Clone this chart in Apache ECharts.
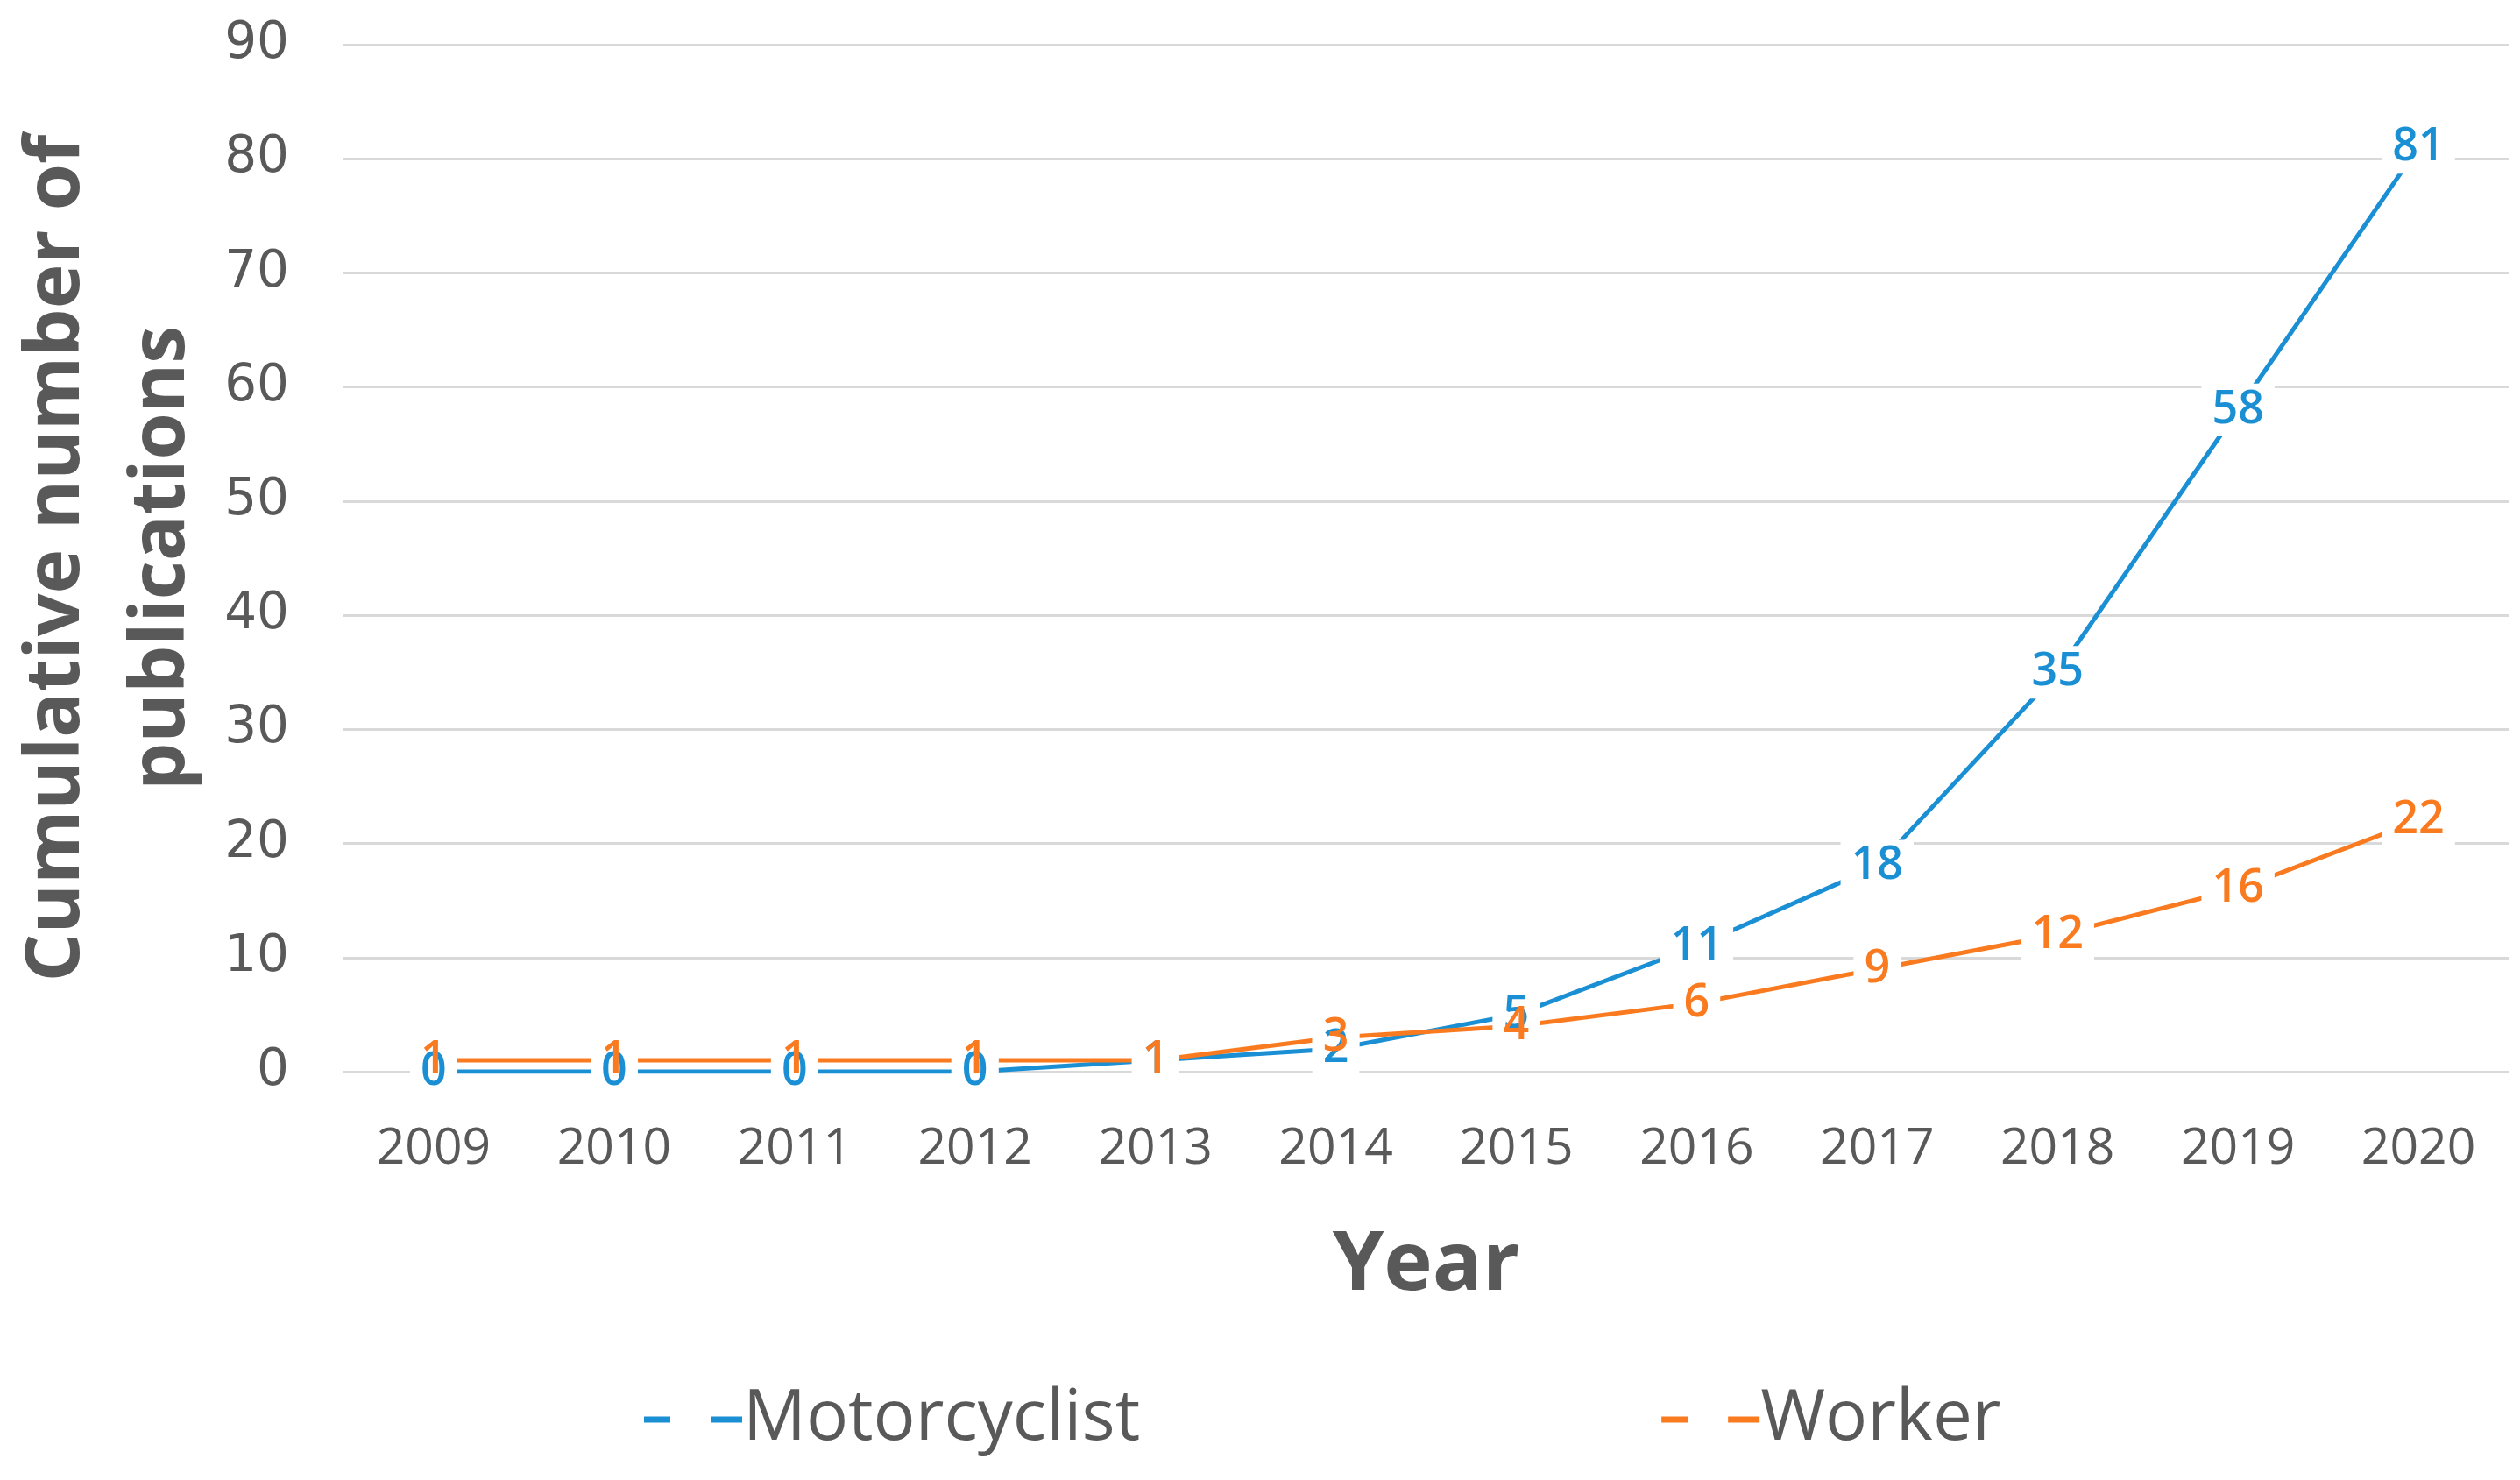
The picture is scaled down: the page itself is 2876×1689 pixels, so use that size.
<!DOCTYPE html>
<html><head><meta charset="utf-8">
<script src="https://cdn.jsdelivr.net/npm/echarts@6/dist/echarts.min.js"></script>
<style>html,body{margin:0;padding:0;background:#fff}#c{width:2876px;height:1689px}</style>
</head><body><div id="c"></div>
<script>
const years = ['2009','2010','2011','2012','2013','2014','2015','2016','2017','2018','2019','2020'];
const motorcyclist = [0,0,0,0,1,2,5,11,18,35,58,81];
const worker = [1,1,1,1,1,3,4,6,9,12,16,22];
const yMin = 0, yMax = 90, yStep = 10;

const BLUE = '#1b8fd4', ORANGE = '#f97a1f', GRAY = '#595959';
const chart = echarts.init(document.getElementById('c'));

// Each series is drawn in three layers: the line, white label plates that cut the lines, and the label texts on top.
function layers(name, data, color){
  const base = {name:name,type:'line',data:data,symbol:'circle',symbolSize:2,showSymbol:true,
                itemStyle:{color:'rgba(0,0,0,0)'},silent:true};
  const font = {fontFamily:'Open Sans',fontSize:52,fontWeight:600,padding:[4,12]};
  return [
    Object.assign({}, base, {z:2, lineStyle:{color:color,width:5}, label:{show:false}}),
    Object.assign({}, base, {z:3, lineStyle:{opacity:0},
      label:Object.assign({show:true,position:'inside',color:'rgba(0,0,0,0)',backgroundColor:'#fff'}, font)}),
    Object.assign({}, base, {z:4, lineStyle:{opacity:0},
      label:Object.assign({show:true,position:'inside',color:color}, font)})
  ];
}
chart.setOption({
  animation:false,
  grid:{left:392,right:13,top:51,bottom:466,containLabel:false,outerBoundsMode:'none'},
  legend:{left:730,top:1575,itemGap:595,itemWidth:112,itemHeight:7,
    textStyle:{fontFamily:'Open Sans',fontSize:80,color:GRAY,padding:[0,0,0,-4]},
    data:[
      {name:'Motorcyclist',icon:'path://M0,0H30V7H0Z M76,0H112V7H76Z',itemStyle:{color:BLUE}},
      {name:'Worker',icon:'path://M0,0H30V7H0Z M76,0H112V7H76Z',itemStyle:{color:ORANGE}}
    ]},
  xAxis:{type:'category',data:years,boundaryGap:true,
    name:'Year',nameLocation:'middle',nameGap:175,
    nameTextStyle:{fontFamily:'Open Sans',fontSize:94,fontWeight:'bold',color:GRAY},
    axisLine:{show:false},axisTick:{show:false},
    axisLabel:{fontFamily:'Open Sans',fontSize:57,color:GRAY,margin:60}},
  yAxis:{type:'value',min:yMin,max:yMax,interval:yStep,
    name:'Cumulative number of\npublications',nameLocation:'middle',nameGap:137,nameRotate:90,
    nameTextStyle:{fontFamily:'Open Sans',fontSize:86,fontWeight:'bold',color:GRAY,lineHeight:120},
    axisLine:{show:false},axisTick:{show:false},
    splitLine:{lineStyle:{color:'#d9d9d9',width:3}},
    axisLabel:{fontFamily:'DejaVu Sans',fontSize:58,color:GRAY,margin:62}},
  series:[].concat(layers('Motorcyclist', motorcyclist, BLUE), layers('Worker', worker, ORANGE))
});
</script></body></html>
